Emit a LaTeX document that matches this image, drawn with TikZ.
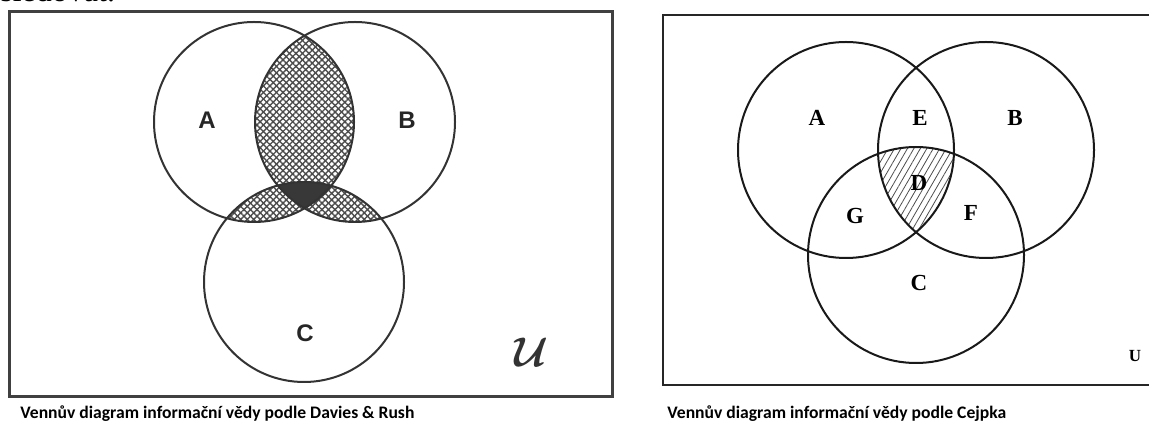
\documentclass[tikz,border=0pt]{standalone}
\usepackage{amsmath}
\usepackage{fontspec}
\setmainfont{Liberation Serif}
\newfontfamily\capfont{Carlito}
\newfontfamily\labfont{Liberation Sans}
\usetikzlibrary{patterns.meta}
\tikzset{
    venn/.style={draw=black!80, line width=1pt},
    frame/.style={draw=black!75, line width=1.5pt},
    meshA/.style={pattern={Lines[angle=45,distance=2.3pt,line width=0.7pt]}, pattern color=black!70},
    meshB/.style={pattern={Lines[angle=-45,distance=2.3pt,line width=0.7pt]}, pattern color=black!70},
    hatch/.style={pattern={Lines[angle=60,distance=2.8pt,line width=0.4pt]}, pattern color=black!70},
    solidcore/.style={fill=black!78},
    drlabel/.style={font=\labfont\fontsize{12}{13}\selectfont\bfseries, text=black!85},
    cjlabel/.style={font=\fontsize{11.5}{12}\selectfont\bfseries},
    caption/.style={font=\capfont\fontsize{8.8}{10}\selectfont\bfseries, anchor=base west, inner sep=0pt}
}
% circles of both diagrams, pixel coordinates
\newcommand{\drA}{(254,122) circle[radius=100]}
\newcommand{\drB}{(355,122) circle[radius=100]}
\newcommand{\drC}{(304,282) circle[radius=100]}
\newcommand{\cjA}{(846,150) circle[radius=108]}
\newcommand{\cjB}{(986,150) circle[radius=108]}
\newcommand{\cjC}{(916,255) circle[radius=108]}
\begin{document}
\begin{tikzpicture}[x=0.5pt, y=-0.5pt]
    \useasboundingbox (0,0) rectangle (1149,421);
    \clip (0,0) rectangle (1149,421);
    \node[font=\fontsize{16}{16}\selectfont, anchor=base west, inner sep=0pt] (top) at (0,2) {sledovat.};

    % Davies & Rush
    \draw[frame] (9,12) rectangle (612,397);
    \begin{scope}
        \clip \drA;
        \fill[meshA] \drB;
        \fill[meshB] \drB;
        \fill[meshA] \drC;
        \fill[meshB] \drC;
    \end{scope}
    \begin{scope}
        \clip \drB;
        \fill[meshA] \drC;
        \fill[meshB] \drC;
    \end{scope}
    \begin{scope}
        \clip \drA;
        \clip \drB;
        \fill[solidcore] \drC;
    \end{scope}
    \draw[venn] \drA;
    \draw[venn] \drB;
    \draw[venn] \drC;
    \node[drlabel] (drlA) at (207,120) {A};
    \node[drlabel] (drlB) at (407,120) {B};
    \node[drlabel] (drlC) at (305,333) {C};
    \node[font=\fontsize{21}{21}\selectfont, text=black!80] (drlU) at (531,352) {$\boldsymbol{\mathcal{U}}$};
    \node[caption] (drcap) at (20,418) {Vennův diagram informační vědy podle Davies \& Rush};

    % Cejpka
    \draw[frame, line width=1.3pt, draw=black!85] (663,15) rectangle (1170,385);
    \begin{scope}
        \clip \cjA;
        \clip \cjB;
        \fill[hatch] \cjC;
    \end{scope}
    \draw[venn, draw=black!90] \cjA;
    \draw[venn, draw=black!90] \cjB;
    \draw[venn, draw=black!90] \cjC;
    \node[cjlabel] (cjlA) at (817,118) {A};
    \node[cjlabel] (cjlE) at (920,118) {E};
    \node[cjlabel] (cjlB) at (1015,118) {B};
    \node[cjlabel] (cjlD) at (919,183) {D};
    \node[cjlabel] (cjlG) at (855,216) {G};
    \node[cjlabel] (cjlF) at (971,213) {F};
    \node[cjlabel] (cjlC) at (919,283) {C};
    \node[font=\fontsize{8.5}{9}\selectfont\bfseries] (cjlU) at (1135,356) {U};
    \node[caption] (cjcap) at (667,418) {Vennův diagram informační vědy podle Cejpka};
\end{tikzpicture}
\end{document}
